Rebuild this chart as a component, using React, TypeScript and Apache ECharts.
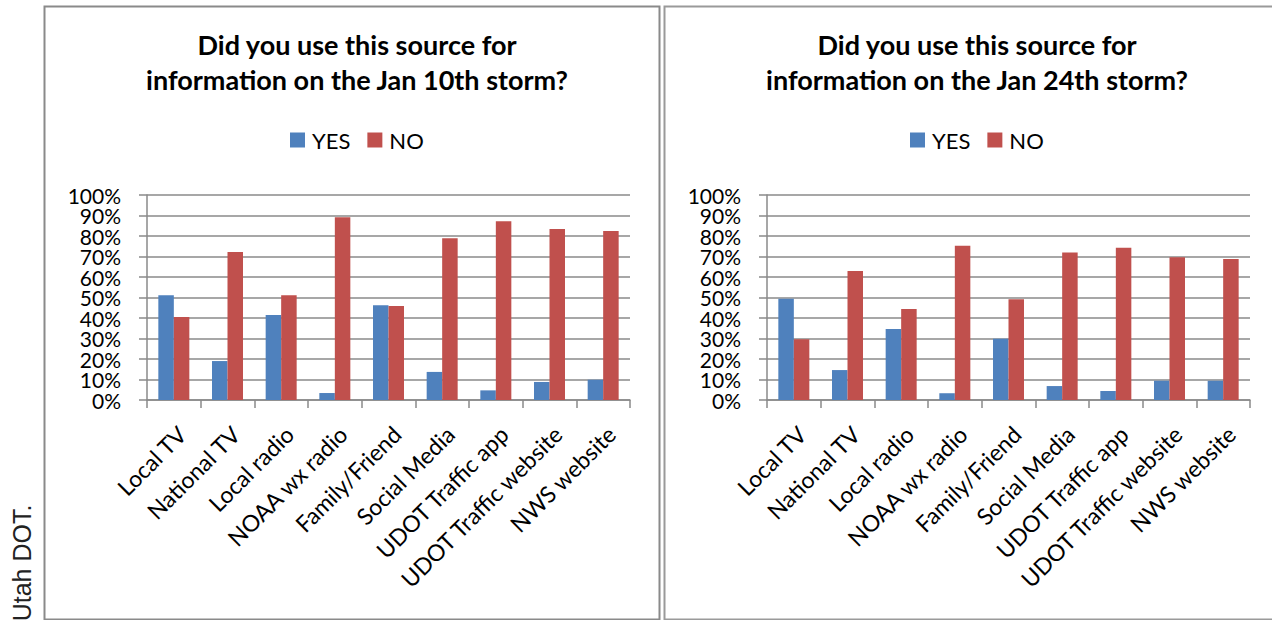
import React, { useEffect, useRef } from "react";
import * as echarts from "echarts";

// Survey sources and share of respondents (percent)
const categories = [
  "Local TV",
  "National TV",
  "Local radio",
  "NOAA wx radio",
  "Family/Friend",
  "Social Media",
  "UDOT Traffic app",
  "UDOT Traffic website",
  "NWS website",
];

const jan10Yes = [51.1, 19.0, 41.5, 3.4, 46.2, 13.7, 4.7, 8.8, 9.9];
const jan10No = [40.5, 72.2, 51.1, 89.1, 45.9, 78.9, 87.2, 83.4, 82.4];

const jan24Yes = [49.4, 14.6, 34.6, 3.3, 29.9, 6.8, 4.4, 9.4, 9.4];
const jan24No = [29.6, 62.9, 44.4, 75.3, 49.1, 72.0, 74.3, 69.6, 68.8];

const titles = [
  "Did you use this source for\ninformation on the Jan 10th storm?",
  "Did you use this source for\ninformation on the Jan 24th storm?",
];

const legendNames = ["YES", "NO"];
const sourceNote = "Utah DOT.";

const BLUE = "#4F81BD";
const RED = "#C0504D";
const GRID = "#8a8a8a";
const FONT = "Lato, 'Noto Sans', sans-serif";

const PLOT_TOP = 195;
const PLOT_H = 205;
const PLOT_W = 483;
const STEP = PLOT_H / 10; // pixel height of one 10% band

const yLabelStyle = {
  margin: 26,
  color: "#000",
  fontSize: 21,
  fontFamily: FONT,
  lineHeight: 14,
};

export default function App() {
  const ref = useRef<HTMLDivElement>(null);

  useEffect(() => {
    if (!ref.current) return;
    const chart = echarts.init(ref.current, undefined, { renderer: "svg" });

    const panels = [
      { left: 147, center: 352, legendCenter: 356 },
      { left: 767, center: 972, legendCenter: 976 },
    ];

    // grids 0,1: the plots; grids 2,3: label-only overlays for the odd tens,
    // stretched by one band each way so ticks land on 10%, 30%, ... 90%
    const grids = [
      ...panels.map((p) => ({ left: p.left, top: PLOT_TOP, width: PLOT_W, height: PLOT_H })),
      ...panels.map((p) => ({
        left: p.left,
        top: PLOT_TOP - STEP,
        width: PLOT_W,
        height: PLOT_H + 2 * STEP,
      })),
    ];

    const xAxes = [
      ...panels.map((_, i) => ({
        type: "category" as const,
        gridIndex: i,
        data: categories,
        axisLine: { lineStyle: { color: GRID, width: 1.5 } },
        axisTick: { show: true, length: 8, lineStyle: { color: GRID, width: 1.5 } },
        axisLabel: {
          interval: 0,
          rotate: 45,
          margin: 22,
          verticalAlign: "top",
          color: "#000",
          fontSize: 23,
          fontFamily: FONT,
        },
      })),
      ...panels.map((_, i) => ({
        type: "category" as const,
        gridIndex: 2 + i,
        data: categories,
        show: false,
      })),
    ];

    const yAxes = [
      ...panels.map((_, i) => ({
        type: "value" as const,
        gridIndex: i,
        min: 0,
        max: 100,
        interval: 10,
        axisLine: { show: true, lineStyle: { color: GRID, width: 1.5 } },
        axisTick: { show: true, length: 8, lineStyle: { color: GRID, width: 1.5 } },
        splitLine: { show: true, lineStyle: { color: GRID, width: 1.5 } },
        axisLabel: {
          ...yLabelStyle,
          showMinLabel: true,
          showMaxLabel: true,
          formatter: (v: number) => (v % 20 === 0 ? `${v}%` : ""),
        },
      })),
      ...panels.map((_, i) => ({
        type: "value" as const,
        gridIndex: 2 + i,
        min: -10,
        max: 110,
        interval: 20,
        axisLine: { show: false },
        axisTick: { show: false },
        splitLine: { show: false },
        axisLabel: {
          ...yLabelStyle,
          showMinLabel: false,
          showMaxLabel: false,
          formatter: (v: number) => (v > 0 && v < 100 ? `${v}%` : ""),
        },
      })),
    ];

    const bar = (name: string, data: number[], color: string, idx: number) => ({
      name,
      type: "bar" as const,
      xAxisIndex: idx,
      yAxisIndex: idx,
      data,
      barWidth: 15.5,
      barGap: "0%",
      itemStyle: { color },
    });

    chart.setOption({
      animation: false,
      backgroundColor: "#fff",
      title: panels.map((p, i) => ({
        text: titles[i],
        left: p.center,
        top: 22,
        textAlign: "center",
        textStyle: {
          fontFamily: FONT,
          fontWeight: "bold",
          fontSize: 27,
          lineHeight: 35,
          color: "#000",
        },
      })),
      legend: panels.map((p) => ({
        data: legendNames,
        left: p.legendCenter - 71,
        top: 124,
        icon: "rect",
        itemWidth: 15,
        itemHeight: 15,
        itemGap: 17,
        textStyle: {
          fontFamily: FONT,
          fontSize: 22,
          color: "#000",
          padding: [0, 0, 0, 2],
        },
      })),
      grid: grids,
      xAxis: xAxes,
      yAxis: yAxes,
      series: [
        bar("YES", jan10Yes, BLUE, 0),
        bar("NO", jan10No, RED, 0),
        bar("YES", jan24Yes, BLUE, 1),
        bar("NO", jan24No, RED, 1),
      ],
      graphic: [
        {
          type: "rect",
          shape: { x: 44.5, y: 6.5, width: 615, height: 613 },
          style: { fill: "none", stroke: "#8a8a8a", lineWidth: 2 },
          silent: true,
        },
        {
          type: "rect",
          shape: { x: 664.5, y: 6.5, width: 640, height: 613 },
          style: { fill: "none", stroke: "#9a9a9a", lineWidth: 2 },
          silent: true,
        },
        {
          type: "text",
          x: 22,
          y: 563,
          rotation: Math.PI / 2,
          style: {
            text: sourceNote,
            fontFamily: "'Liberation Sans', Arial, sans-serif",
            fontSize: 25,
            fill: "#222",
            align: "center",
            verticalAlign: "middle",
          },
          silent: true,
        },
      ],
    });

    return () => chart.dispose();
  }, []);

  return (
    <div
      ref={ref}
      style={{ position: "fixed", left: 0, top: 0, width: 1272, height: 620 }}
    />
  );
}
